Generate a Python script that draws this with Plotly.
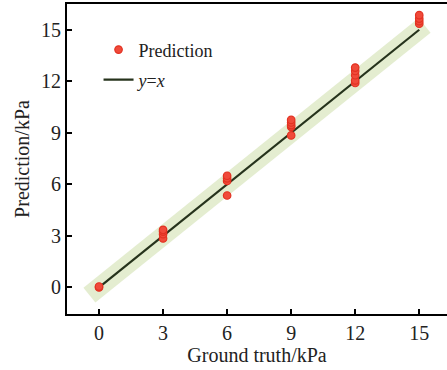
import plotly.graph_objects as go
import numpy as np

# Data
truth_levels = [0, 3, 6, 9, 12, 15]
gt_x = [0, 0,
        3, 3, 3, 3,
        6, 6, 6, 6,
        9, 9, 9, 9, 9,
        12, 12, 12, 12, 12,
        15, 15, 15, 15]
pred_y = [0.0, 0.05,
          2.85, 3.1, 3.25, 3.35,
          5.35, 6.2, 6.35, 6.5,
          8.85, 9.35, 9.45, 9.6, 9.75,
          11.9, 12.05, 12.35, 12.6, 12.8,
          15.35, 15.5, 15.65, 15.85]
x_ticks = [0, 3, 6, 9, 12, 15]
y_ticks = [0, 3, 6, 9, 12, 15]

W, H = 447, 370
L, R, T, B = 67, 0, 4, 56
x_range = [-1.5, 16.3]
y_range = [-1.55, 16.5]

# band around y=x, built in pixel space then mapped back to data units
pxx = (W - L - R) / (x_range[1] - x_range[0])
pxy = (H - T - B) / (y_range[1] - y_range[0])
d = np.array([pxx, pxy]); d = d / np.linalg.norm(d)
perp = np.array([-d[1], d[0]])
hw = 9.5
dx, dy = perp[0] * hw / pxx, perp[1] * hw / pxy
a, b = -0.45, 15.25
band_x = [a + dx, b + dx, b - dx, a - dx, a + dx]
band_y = [a + dy, b + dy, b - dy, a - dy, a + dy]

font = "Liberation Serif"
txt = "#222"

fig = go.Figure()
fig.add_trace(go.Scatter(x=band_x, y=band_y, fill="toself", mode="lines",
                         line=dict(width=0), fillcolor="#e4edd0",
                         showlegend=False, hoverinfo="skip"))
fig.add_trace(go.Scatter(x=[truth_levels[0], truth_levels[-1]],
                         y=[truth_levels[0], truth_levels[-1]],
                         mode="lines", line=dict(color="#26331c", width=2.2),
                         name="<i>y</i>=<i>x</i>", legend="legend2"))
fig.add_trace(go.Scatter(x=gt_x, y=pred_y, mode="markers",
                         marker=dict(size=7.5, color="#f04a3a",
                                     line=dict(color="#e23222", width=1.2)),
                         name="Prediction", legend="legend"))

axis_common = dict(showline=True, linecolor="black", linewidth=2,
                   ticks="inside", ticklen=5, tickwidth=1.5, tickcolor="black",
                   showgrid=False, zeroline=False,
                   tickfont=dict(family=font, size=20, color=txt))
fig.update_xaxes(range=x_range, tickvals=x_ticks, mirror=True,
                 title=dict(text="Ground truth/kPa", font=dict(family=font, size=20, color=txt),
                            standoff=4),
                 **axis_common)
fig.update_yaxes(range=y_range, tickvals=y_ticks,
                 title=dict(text="Prediction/kPa", font=dict(family=font, size=20, color=txt),
                            standoff=6),
                 **axis_common)

fig.update_layout(
    width=W, height=H,
    margin=dict(l=L, r=R, t=T, b=B),
    plot_bgcolor="white", paper_bgcolor="white",
    legend=dict(x=0.083, y=0.852, xanchor="left", yanchor="middle",
                bgcolor="rgba(0,0,0,0)", font=dict(family=font, size=18, color=txt)),
    legend2=dict(x=0.083, y=0.755, xanchor="left", yanchor="middle",
                 bgcolor="rgba(0,0,0,0)", font=dict(family=font, size=18, color=txt)),
)

fig.write_html("out.html")
